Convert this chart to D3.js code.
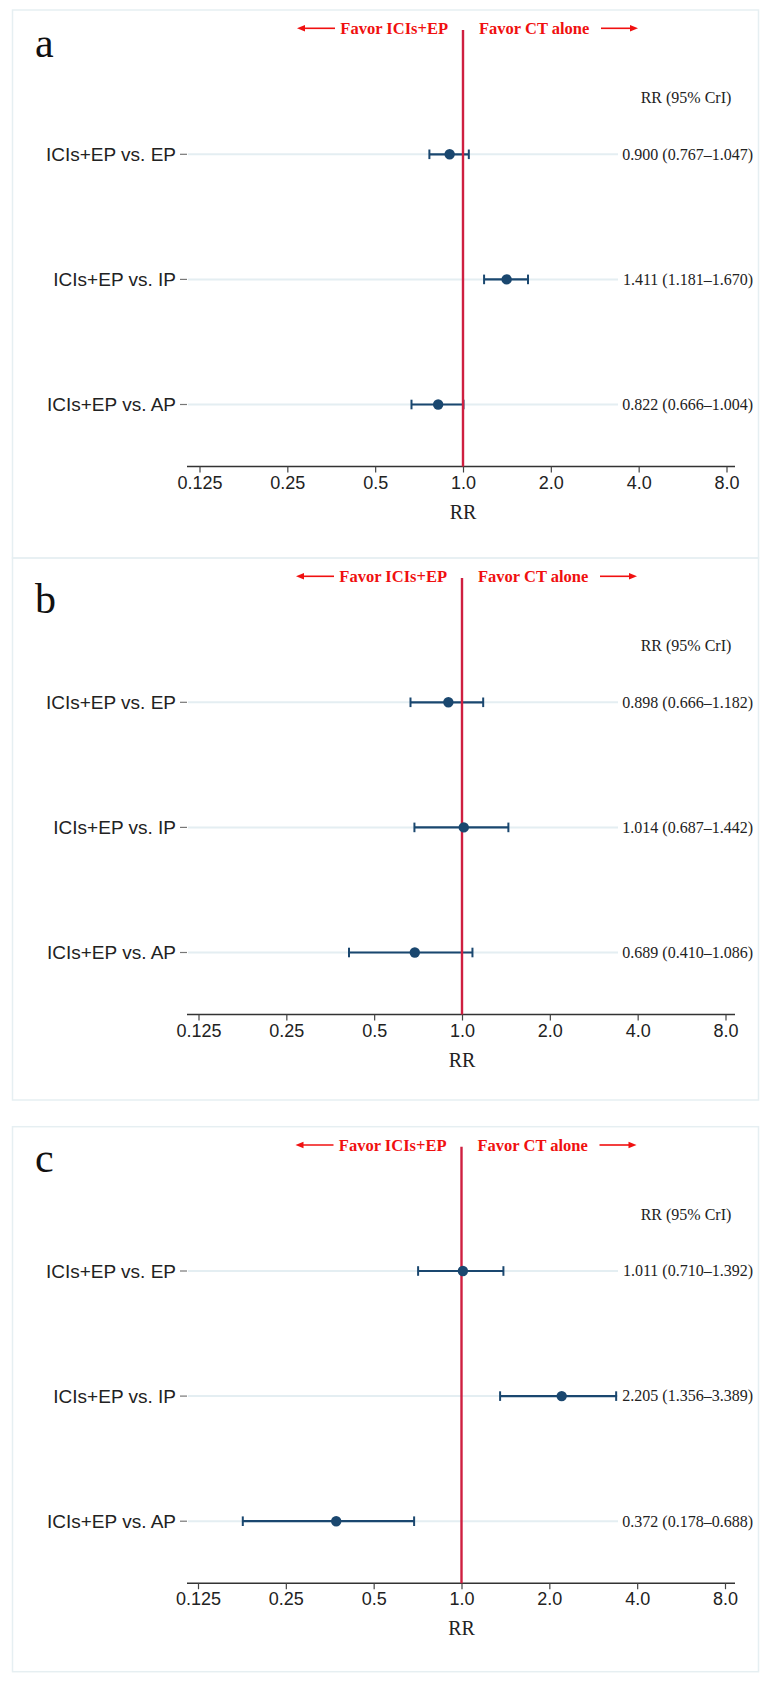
<!DOCTYPE html>
<html><head><meta charset="utf-8">
<script src="https://cdn.jsdelivr.net/npm/d3@7"></script>
<style>html,body{margin:0;padding:0;background:#fff;}svg{display:block;}</style>
</head><body>
<script>
// ---- data ----
const panelLetters = ["a", "b", "c"];
const comparisons = ["ICIs+EP vs. EP", "ICIs+EP vs. IP", "ICIs+EP vs. AP"];
const rrA = [0.900, 1.411, 0.822], loA = [0.767, 1.181, 0.666], hiA = [1.047, 1.670, 1.004];
const rrB = [0.898, 1.014, 0.689], loB = [0.666, 0.687, 0.410], hiB = [1.182, 1.442, 1.086];
const rrC = [1.011, 2.205, 0.372], loC = [0.710, 1.356, 0.178], hiC = [1.392, 3.389, 0.688];
const tickValues = [0.125, 0.25, 0.5, 1, 2, 4, 8];
const tickLabels = ["0.125", "0.25", "0.5", "1.0", "2.0", "4.0", "8.0"];
const favorLeft = "Favor ICIs+EP", favorRight = "Favor CT alone";
const headerText = "RR (95% CrI)", axisTitle = "RR";

// ---- layout ----
const W = 767, H = 1681;
const panelTop = [10, 558, 1126.7], panelH = [548, 542, 545];
const letterBase = [46.7, 54.5, 45.3];
const xShift = [1.5, 0.5, 0];
const seriesData = [[rrA, loA, hiA], [rrB, loB, hiB], [rrC, loC, hiC]];
const navy = "#1a476f", crimson = "#cf1f40", red = "#f01010";

const svg = d3.select("body").append("svg").attr("width", W).attr("height", H);

panelLetters.forEach((letter, p) => {
  const top = panelTop[p];
  const g = svg.append("g");
  const x = d3.scaleLog().base(2).domain([0.125, 8]).range([198 + xShift[p], 725 + xShift[p]]);
  const y = d3.scalePoint().domain(comparisons).range([top + 144.3, top + 394.5]);
  const axisY = top + 456.5;
  const [est, lo, hi] = seriesData[p];
  const rows = comparisons.map((c, i) => ({c, est: est[i], lo: lo[i], hi: hi[i]}));

  // panel frame
  g.append("rect").attr("x", 12.5).attr("y", top).attr("width", 746).attr("height", panelH[p])
    .attr("fill", "none").attr("stroke", "#e6eff2").attr("stroke-width", 1.5);

  // letter
  g.append("text").attr("x", 35).attr("y", top + letterBase[p]).text(letter)
    .attr("font-family", "Liberation Serif, serif").attr("font-size", 42).attr("fill", "#111");

  // row guide lines
  g.selectAll(".guide").data(rows).join("line")
    .attr("x1", 188).attr("x2", 618).attr("y1", d => y(d.c)).attr("y2", d => y(d.c))
    .attr("stroke", "#e4eef2").attr("stroke-width", 2);

  // y labels + ticks
  g.selectAll(".ytick").data(rows).join("line")
    .attr("x1", 180).attr("x2", 187).attr("y1", d => y(d.c)).attr("y2", d => y(d.c))
    .attr("stroke", "#777").attr("stroke-width", 1.2);
  g.selectAll(".ylab").data(rows).join("text")
    .attr("x", 176).attr("y", d => y(d.c)).attr("dy", "0.36em").attr("text-anchor", "end")
    .attr("font-family", "Liberation Sans, Arial, sans-serif").attr("font-size", 19).attr("fill", "#222")
    .text(d => d.c);

  // x axis
  const axis = d3.axisBottom(x).tickValues(tickValues).tickFormat((d, i) => tickLabels[i]).tickSize(6).tickSizeOuter(0);
  const ax = g.append("g").attr("transform", `translate(0,${axisY})`).call(axis);
  ax.select(".domain").attr("d", `M187,0H${735}`).attr("stroke", "#333").attr("stroke-width", 1.5);
  ax.selectAll(".tick line").attr("stroke", "#444").attr("stroke-width", 1.2);
  ax.selectAll(".tick text").attr("y", 22).attr("dy", 0).attr("font-family", "Liberation Sans, Arial, sans-serif")
    .attr("font-size", 18).attr("fill", "#222");
  g.append("text").attr("x", x(1)).attr("y", axisY + 52).attr("text-anchor", "middle")
    .attr("font-family", "Liberation Serif, serif").attr("font-size", 20).attr("fill", "#222").text(axisTitle);

  // error bars
  g.selectAll(".ci").data(rows).join("line")
    .attr("x1", d => x(d.lo)).attr("x2", d => x(d.hi)).attr("y1", d => y(d.c)).attr("y2", d => y(d.c))
    .attr("stroke", navy).attr("stroke-width", 2.2);
  ["lo", "hi"].forEach(k => {
    g.selectAll(".cap" + k).data(rows).join("line")
      .attr("x1", d => x(d[k])).attr("x2", d => x(d[k])).attr("y1", d => y(d.c) - 4.8).attr("y2", d => y(d.c) + 4.8)
      .attr("stroke", navy).attr("stroke-width", 2);
  });

  // reference line
  g.append("line").attr("x1", x(1)).attr("x2", x(1)).attr("y1", top + 20).attr("y2", axisY)
    .attr("stroke", crimson).attr("stroke-width", 2.4);

  g.selectAll(".pt").data(rows).join("circle")
    .attr("cx", d => x(d.est)).attr("cy", d => y(d.c)).attr("r", 5.2).attr("fill", navy);

  // values
  g.append("text").attr("x", 686).attr("y", top + 93.3).attr("text-anchor", "middle")
    .attr("font-family", "Liberation Serif, serif").attr("font-size", 16).attr("fill", "#222").text(headerText);
  g.selectAll(".val").data(rows).join("text")
    .attr("x", 753).attr("y", d => y(d.c) + 5.3).attr("text-anchor", "end")
    .attr("font-family", "Liberation Serif, serif").attr("font-size", 16).attr("fill", "#222")
    .text(d => `${d.est.toFixed(3)} (${d.lo.toFixed(3)}–${d.hi.toFixed(3)})`);

  // favor annotations
  const fy = top + 24, ay = top + 18.3;
  g.append("text").attr("x", x(1) - 15).attr("y", fy).attr("text-anchor", "end")
    .attr("font-family", "Liberation Serif, serif").attr("font-weight", "bold").attr("font-size", 16.5)
    .attr("fill", red).text(favorLeft);
  g.append("text").attr("x", x(1) + 16).attr("y", fy).attr("text-anchor", "start")
    .attr("font-family", "Liberation Serif, serif").attr("font-weight", "bold").attr("font-size", 16.5)
    .attr("fill", red).text(favorRight);
  const lx1 = x(1) - 128, lx0 = x(1) - 166;
  g.append("line").attr("x1", lx0 + 6).attr("x2", lx1).attr("y1", ay).attr("y2", ay).attr("stroke", red).attr("stroke-width", 1.6);
  g.append("path").attr("d", `M${lx0},${ay}L${lx0 + 8},${ay - 3.2}L${lx0 + 8},${ay + 3.2}Z`).attr("fill", red);
  const rx0 = x(1) + 138, rx1 = x(1) + 175;
  g.append("line").attr("x1", rx0).attr("x2", rx1 - 6).attr("y1", ay).attr("y2", ay).attr("stroke", red).attr("stroke-width", 1.6);
  g.append("path").attr("d", `M${rx1},${ay}L${rx1 - 8},${ay - 3.2}L${rx1 - 8},${ay + 3.2}Z`).attr("fill", red);
});
</script>
</body></html>
